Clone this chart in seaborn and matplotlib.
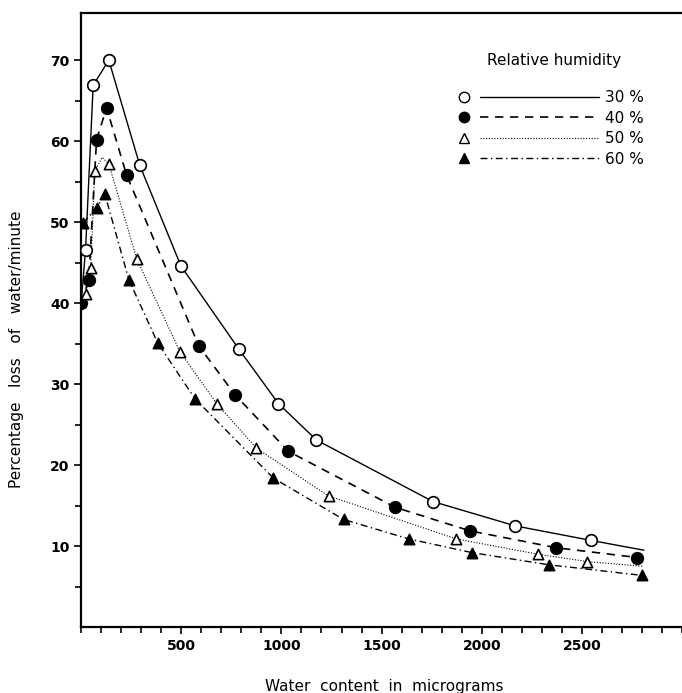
import seaborn as sns
import matplotlib.pyplot as plt
from matplotlib.lines import Line2D
from matplotlib.legend_handler import HandlerLine2D
from matplotlib.ticker import MultipleLocator, FixedLocator

# measured points: water content (micrograms) vs % loss of water per minute
x30 = [22, 60, 138, 293, 498, 788, 985, 1175, 1757, 2168, 2548]
y30 = [46.6, 66.9, 70.0, 57.0, 44.6, 34.3, 27.6, 23.1, 15.5, 12.5, 10.7]
x40 = [0, 38, 77, 127, 227, 588, 768, 1035, 1568, 1940, 2373, 2777]
y40 = [40.0, 42.9, 60.2, 64.1, 55.8, 34.7, 28.7, 21.7, 14.8, 11.9, 9.8, 8.6]
x50 = [22, 48, 68, 138, 277, 493, 677, 875, 1235, 1872, 2282, 2527]
y50 = [41.1, 44.3, 56.3, 57.2, 45.5, 34.0, 27.6, 22.1, 16.2, 10.9, 9.0, 8.1]
x60 = [8, 77, 118, 238, 382, 568, 960, 1310, 1635, 1952, 2335, 2798]
y60 = [49.9, 51.7, 53.5, 42.9, 35.1, 28.2, 18.4, 13.3, 10.9, 9.2, 7.7, 6.4]

# drawn curves (start and end beyond the markers)
cx30 = [0] + x30 + [2810]
cy30 = [40.0] + y30 + [9.5]
cx40 = x40
cy40 = y40
cx50 = [0] + x50[:3] + [105] + x50[3:] + [2810]
cy50 = [40.0] + y50[:3] + [58.0] + y50[3:] + [7.5]
cx60 = x60
cy60 = y60

labels = ["30 %", "40 %", "50 %", "60 %"]
xticks = [500, 1000, 1500, 2000, 2500]
yticks = [10, 20, 30, 40, 50, 60, 70]


class MarkerLeft(HandlerLine2D):
    # marker at the left end, then the line
    def create_artists(self, legend, orig_handle, xdescent, ydescent,
                       width, height, fontsize, trans):
        y = (height - ydescent) / 2
        line = Line2D([-xdescent + 0.12 * width, -xdescent + width], [y, y])
        self.update_prop(line, orig_handle, legend)
        line.set_marker("None")
        mark = Line2D([-xdescent], [y])
        self.update_prop(mark, orig_handle, legend)
        mark.set_linestyle("None")
        line.set_transform(trans)
        mark.set_transform(trans)
        return [line, mark]


sns.set_style("ticks")
plt.rcParams["font.family"] = ["DejaVu Sans"]
plt.rcParams["text.color"] = "black"
plt.rcParams["axes.labelcolor"] = "black"
plt.rcParams["xtick.labelcolor"] = "black"
plt.rcParams["ytick.labelcolor"] = "black"

fig = plt.figure(figsize=(6.82, 6.93), dpi=100)
ax = fig.add_axes([0.119, 0.095, 0.881, 0.886])

series = [
    (cx30, cy30, x30, y30, "-", 1.0, "o", "white", 70),
    (cx40, cy40, x40, y40, (0, (5, 4)), 1.2, "o", "black", 70),
    (cx50, cy50, x50, y50, (0, (1, 1.5)), 0.8, "^", "white", 55),
    (cx60, cy60, x60, y60, (0, (5, 2.5, 1, 2.5)), 1.0, "^", "black", 55),
]

handles = []
for cx, cy, mx, my, ls, lw, mk, fc, s in series:
    sns.lineplot(x=cx, y=cy, ax=ax, color="black", linestyle=ls, lw=lw,
                 sort=False, estimator=None)
    sns.scatterplot(x=mx, y=my, ax=ax, marker=mk, s=s, facecolor=fc,
                    edgecolor="black", linewidth=1.2, zorder=3)
    handles.append(Line2D([], [], color="black", linestyle=ls, lw=lw,
                          marker=mk, markerfacecolor=fc,
                          markeredgecolor="black", markersize=7.5))

ax.set_xlim(0, 3000)
ax.set_ylim(0, 75.8)
ax.xaxis.set_major_locator(FixedLocator(xticks))
ax.xaxis.set_minor_locator(MultipleLocator(100))
ax.yaxis.set_major_locator(FixedLocator(yticks))
ax.yaxis.set_minor_locator(FixedLocator([5, 15, 25, 35, 45, 55, 65]))
ax.tick_params(which="both", direction="out", color="black", width=1.2)
ax.tick_params(which="major", length=5, labelsize=10)
ax.tick_params(which="minor", length=4)
for t in ax.get_xticklabels() + ax.get_yticklabels():
    t.set_fontweight("bold")

for side in ["left", "bottom", "top"]:
    ax.spines[side].set_linewidth(1.6)
    ax.spines[side].set_color("black")
ax.spines["right"].set_visible(False)

ax.set_xlabel("Water  content  in  micrograms", fontsize=11)
ax.set_ylabel("Percentage   loss   of   water/minute", fontsize=11)
ax.xaxis.set_label_coords(0.505, -0.085)
ax.yaxis.set_label_coords(-0.095, 0.453)

leg = ax.legend(handles, labels, title="Relative humidity\n",
                handler_map={Line2D: MarkerLeft()},
                loc="upper left", bbox_to_anchor=(0.625, 0.948), frameon=False,
                handlelength=8.8, handletextpad=0.4, labelspacing=0.35,
                borderpad=0, fontsize=11, title_fontsize=11)

fig.savefig("out.png", dpi=100)
